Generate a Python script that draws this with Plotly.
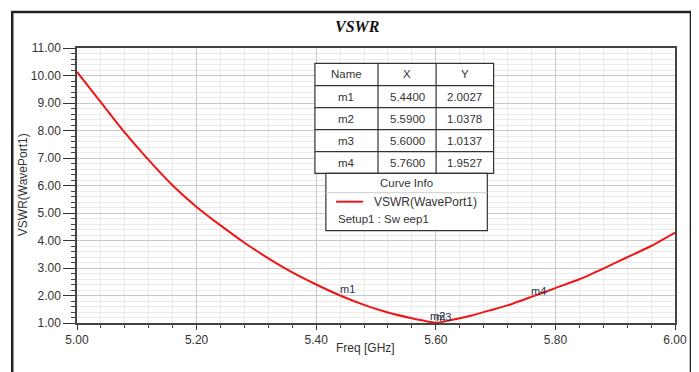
import plotly.graph_objects as go

# ---- data ----
freq = [5.00, 5.04, 5.08, 5.12, 5.16, 5.20, 5.24, 5.28, 5.32, 5.36, 5.40, 5.44, 5.48, 5.52,
        5.56, 5.59, 5.60, 5.62, 5.66, 5.70, 5.72, 5.76, 5.80, 5.84, 5.88, 5.92, 5.96, 6.00]
vswr = [10.13, 9.02, 7.92, 6.92, 6.00, 5.22, 4.55, 3.92, 3.35, 2.84, 2.40, 2.00, 1.66, 1.38,
        1.17, 1.04, 1.01, 1.08, 1.27, 1.52, 1.64, 1.95, 2.27, 2.59, 2.98, 3.39, 3.80, 4.29]

marker_names = ["m1", "m2", "m3", "m4"]
marker_x = [5.4400, 5.5900, 5.6000, 5.7600]
marker_y = [2.0027, 1.0378, 1.0137, 1.9527]
table_header = ["Name", "X", "Y"]

x_ticks = [5.0, 5.2, 5.4, 5.6, 5.8, 6.0]
y_ticks = [1, 2, 3, 4, 5, 6, 7, 8, 9, 10, 11]

# ---- layout geometry (screen pixels; page body has an 8px margin) ----
OFF = 8
W, H = 699 - OFF, 372 - OFF
L, R, T, B = 77, 677, 48, 323  # plot area in screen pixels


def px(x):
    return (x - L) / (R - L)


def py(y):
    return (B - y) / (B - T)


SANS = "Liberation Sans, Arial, sans-serif"
fig = go.Figure()
fig.add_trace(go.Scatter(x=freq, y=vswr, mode="lines",
                         line=dict(color="rgb(238,22,22)", width=2, shape="spline", smoothing=0.6),
                         showlegend=False, hoverinfo="skip"))

shapes = []
annotations = []

# outer frame
shapes.append(dict(type="rect", xref="paper", yref="paper",
                   x0=px(12), x1=px(693), y0=py(395), y1=py(12),
                   line=dict(color="#222222", width=2.5), fillcolor="rgba(0,0,0,0)",
                   layer="above"))

# title
annotations.append(dict(xref="paper", yref="paper", x=px(358.5), y=py(26.7),
                        text="<b><i>VSWR</i></b>", showarrow=False,
                        xanchor="center", yanchor="middle",
                        font=dict(family="Liberation Serif, Times New Roman, serif", size=16, color="#111111")))

# axis titles
annotations.append(dict(xref="paper", yref="paper", x=px(23), y=py(185),
                        text="VSWR(WavePort1)", textangle=-90, showarrow=False,
                        xanchor="center", yanchor="middle",
                        font=dict(family=SANS, size=12, color="#333333")))
annotations.append(dict(xref="paper", yref="paper", x=px(366), y=py(348),
                        text="Freq [GHz]", showarrow=False,
                        xanchor="center", yanchor="middle",
                        font=dict(family=SANS, size=12, color="#333333")))

# marker labels on the curve
for name, mx, my in zip(marker_names, marker_x, marker_y):
    annotations.append(dict(x=mx, y=my, xref="x", yref="y", text=name, showarrow=False,
                            xanchor="left", yanchor="middle", xshift=-2, yshift=6,
                            font=dict(family=SANS, size=11, color="#28304a")))

# marker table
col_edges = [315.7, 379, 437.3, 495]
row_edges = [63.3, 85.7, 107.7, 129.7, 151.7, 173.3]
shapes.append(dict(type="rect", xref="paper", yref="paper",
                   x0=px(col_edges[0]), x1=px(col_edges[-1]),
                   y0=py(row_edges[-1]), y1=py(row_edges[0]),
                   line=dict(color="#333333", width=1.2), fillcolor="white", layer="above"))
for ce in col_edges[1:-1]:
    shapes.append(dict(type="line", xref="paper", yref="paper",
                       x0=px(ce), x1=px(ce), y0=py(row_edges[-1]), y1=py(row_edges[0]),
                       line=dict(color="#333333", width=1.2), layer="above"))
for re_ in row_edges[1:-1]:
    shapes.append(dict(type="line", xref="paper", yref="paper",
                       x0=px(col_edges[0]), x1=px(col_edges[-1]), y0=py(re_), y1=py(re_),
                       line=dict(color="#333333", width=1.2), layer="above"))

rows = [table_header] + [[n, f"{x:.4f}", f"{y:.4f}"] for n, x, y in zip(marker_names, marker_x, marker_y)]
for ri, row in enumerate(rows):
    cy = (row_edges[ri] + row_edges[ri + 1]) / 2
    for ci, txt in enumerate(row):
        cx = (col_edges[ci] + col_edges[ci + 1]) / 2
        annotations.append(dict(xref="paper", yref="paper", x=px(cx), y=py(cy), text=txt,
                                showarrow=False, xanchor="center", yanchor="middle",
                                font=dict(family=SANS, size=11.5, color="#333333")))

# curve info box
shapes.append(dict(type="rect", xref="paper", yref="paper",
                   x0=px(326.7), x1=px(488.7), y0=py(230.7), y1=py(173.3),
                   line=dict(color="#333333", width=1.2), fillcolor="white", layer="above"))
shapes.append(dict(type="line", xref="paper", yref="paper",
                   x0=px(326.7), x1=px(488.7), y0=py(192.7), y1=py(192.7),
                   line=dict(color="#cccccc", width=1), layer="above"))
shapes.append(dict(type="line", xref="paper", yref="paper",
                   x0=px(337), x1=px(364), y0=py(201.7), y1=py(201.7),
                   line=dict(color="rgb(238,22,22)", width=2), layer="above"))
annotations.append(dict(xref="paper", yref="paper", x=px(407.7), y=py(182.7), text="Curve Info",
                        showarrow=False, xanchor="center", yanchor="middle",
                        font=dict(family=SANS, size=11.5, color="#333333")))
annotations.append(dict(xref="paper", yref="paper", x=px(372.7), y=py(201.7), text="VSWR(WavePort1)",
                        showarrow=False, xanchor="left", yanchor="middle",
                        font=dict(family=SANS, size=12, color="#333333")))
annotations.append(dict(xref="paper", yref="paper", x=px(337.3), y=py(219), text="Setup1 : Sw eep1",
                        showarrow=False, xanchor="left", yanchor="middle",
                        font=dict(family=SANS, size=11.5, color="#333333")))

fig.update_layout(
    width=W, height=H,
    margin=dict(l=L - OFF, r=(W + OFF) - R, t=T - OFF, b=(H + OFF) - B, pad=0),
    paper_bgcolor="white", plot_bgcolor="white",
    shapes=shapes, annotations=annotations,
    showlegend=False,
    font=dict(family=SANS, size=12, color="#333333"),
)
fig.update_xaxes(
    range=[5, 6], tickvals=x_ticks, ticktext=[f"{v:.2f}" for v in x_ticks],
    showgrid=True, gridcolor="#c9c9c9", gridwidth=1,
    ticks="outside", ticklen=5, tickcolor="#333333",
    showline=True, linecolor="#444444", linewidth=1.5, mirror=True,
    zeroline=False,
    tickfont=dict(family=SANS, size=12, color="#333333"),
    minor=dict(dtick=0.04, showgrid=True, gridcolor="#ebebeb", ticks="outside",
               ticklen=3, tickcolor="#444444"),
)
fig.update_yaxes(
    range=[1, 11], tickvals=y_ticks, ticktext=[f"{v:.2f}" for v in y_ticks],
    showgrid=True, gridcolor="#c9c9c9", gridwidth=1,
    ticks="outside", ticklen=12, tickcolor="#333333",
    showline=True, linecolor="#444444", linewidth=1.5, mirror=True,
    zeroline=False,
    tickfont=dict(family=SANS, size=12, color="#333333"),
    minor=dict(dtick=0.2, showgrid=True, gridcolor="#ebebeb", ticks="outside",
               ticklen=4, tickcolor="#444444"),
)

fig.write_html("out.html")
